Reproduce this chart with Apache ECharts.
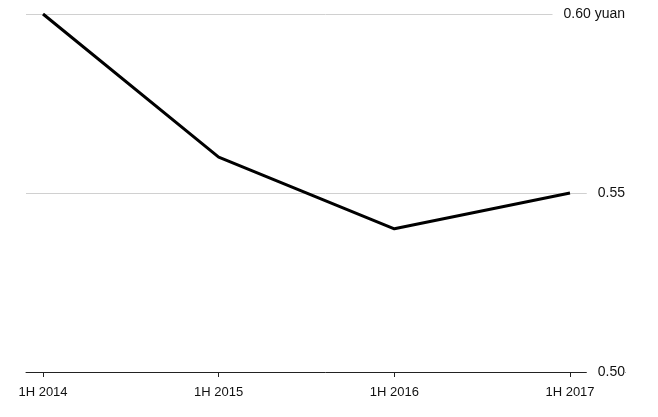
<!DOCTYPE html>
<html><head><meta charset="utf-8">
<script src="https://cdn.jsdelivr.net/npm/echarts@6/dist/echarts.min.js"></script>
<style>html,body{margin:0;padding:0;background:#fff}#c{width:658px;height:417px}</style>
</head><body><div id="c"></div>
<script>
const categories = ['1H 2014', '1H 2015', '1H 2016', '1H 2017'];
const values = [0.60, 0.56, 0.54, 0.55];
const yTicks = [0.50, 0.55, 0.60];
const yLabels = {'0.50': '0.50', '0.55': '0.55', '0.60': '0.60 yuan'};

const chart = echarts.init(document.getElementById('c'), null, {renderer: 'canvas'});
const font = 'Liberation Sans, Arial, Helvetica, sans-serif';
chart.setOption({
  animation: false,
  grid: [
    {left: 26, right: 33, top: 14, bottom: 45},
    {left: 43, right: 88, top: 14, bottom: 45}
  ],
  xAxis: [
    {gridIndex: 0, type: 'category', data: categories, boundaryGap: false,
     axisLine: {show: true, lineStyle: {color: '#222', width: 1}},
     axisTick: {show: false}, axisLabel: {show: false}, splitLine: {show: false}},
    {gridIndex: 1, type: 'category', data: categories, boundaryGap: false,
     axisLine: {show: false},
     axisTick: {show: true, length: 5, alignWithLabel: true, lineStyle: {color: '#222', width: 1}},
     axisLabel: {show: true, color: '#111', fontFamily: font, fontSize: 13, margin: 14},
     splitLine: {show: false}}
  ],
  yAxis: [
    {gridIndex: 0, type: 'value', min: yTicks[0], max: yTicks[2], interval: 0.05, position: 'right',
     axisLine: {show: false}, axisTick: {show: false},
     splitLine: {show: true, lineStyle: {color: '#d0d0d0', width: 1}},
     axisLabel: {inside: true, color: '#111', fontFamily: font, fontSize: 14,
       backgroundColor: '#fff', padding: [2, 0, 2, 11], margin: 0,
       formatter: v => yLabels[v.toFixed(2)] || ''}},
    {gridIndex: 1, type: 'value', min: yTicks[0], max: yTicks[2], show: false}
  ],
  series: [{
    type: 'line', xAxisIndex: 1, yAxisIndex: 1, data: values,
    symbol: 'none', lineStyle: {color: '#000', width: 3}, z: 5
  }]
});
</script></body></html>
